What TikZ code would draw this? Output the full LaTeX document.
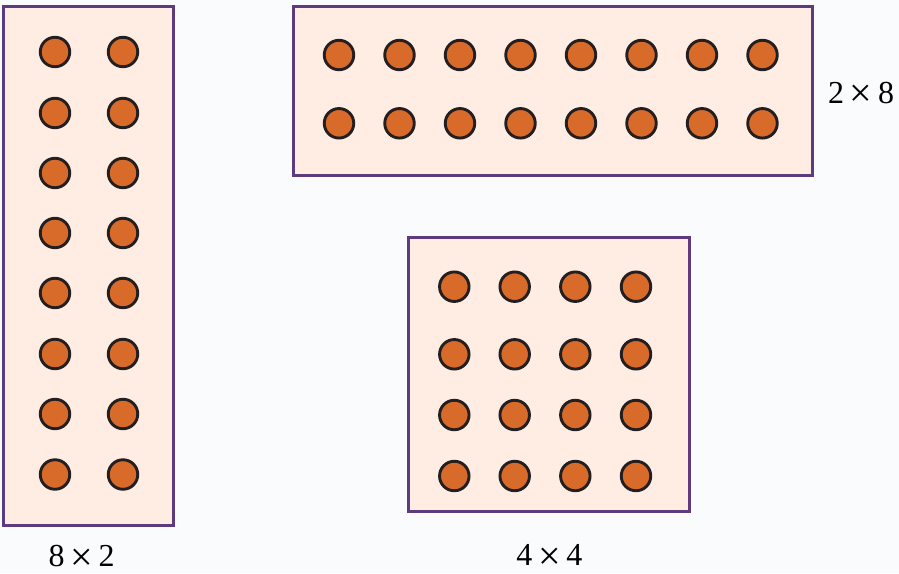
\documentclass[tikz,border=0pt]{standalone}
\usepackage{fontspec}
\setmainfont{Liberation Serif}
\definecolor{bgc}{HTML}{F9FBFD}
\definecolor{panelfill}{HTML}{FFEDE3}
\definecolor{panelline}{HTML}{5E3A7E}
\definecolor{dotfill}{HTML}{D86A2A}
\definecolor{dotline}{HTML}{231F20}
\newcommand{\tms}{\makebox[34pt][c]{\raisebox{-3.5pt}{\fontsize{40}{40}\selectfont ×}}}
\begin{document}
\begin{tikzpicture}[x=1pt,y=-1pt,
  panel/.style={draw=panelline,fill=panelfill,line width=3pt,inner sep=0pt},
  dot/.style={circle,draw=dotline,fill=dotfill,line width=2.9pt,minimum size=29.5pt,inner sep=0pt},
  lbl/.style={font=\fontsize{32}{36}\selectfont,text=black,inner sep=0pt,text depth=0pt,text height=22pt,anchor=base}]
\fill[bgc] (0,0) rectangle (899,573);
\useasboundingbox (0,0) rectangle (899,573);
% panels
\node[panel,minimum width=170pt,minimum height=519pt] (pl) at (88,265.5) {};
\node[panel,minimum width=519pt,minimum height=169pt] (pt) at (552.5,90.5) {};
\node[panel,minimum width=281pt,minimum height=274pt] (pb) at (548.7,374) {};
% left: 8 x 2
\foreach \r/\y in {1/52,2/113,3/173,4/233,5/293,6/354,7/414,8/474.5}
  \foreach \c/\x in {1/55,2/123}
    \node[dot] (l\r\c) at (\x,\y) {};
% top: 2 x 8
\foreach \r/\y in {1/55,2/123.3}
  \foreach \c/\x in {1/339,2/399.5,3/460,4/520.5,5/581,6/641.5,7/702,8/762.5}
    \node[dot] (t\r\c) at (\x,\y) {};
% bottom: 4 x 4
\foreach \r/\y in {1/286.7,2/354.3,3/415,4/476}
  \foreach \c/\x in {1/454.3,2/514.7,3/575.3,4/636}
    \node[dot] (b\r\c) at (\x,\y) {};
% labels
\node[lbl] (ll) at (81.5,566.5) {8\tms 2};
\node[lbl] (lt) at (861,103.3) {2\tms 8};
\node[lbl] (lb) at (549.3,565.5) {4\tms 4};
\end{tikzpicture}
\end{document}
